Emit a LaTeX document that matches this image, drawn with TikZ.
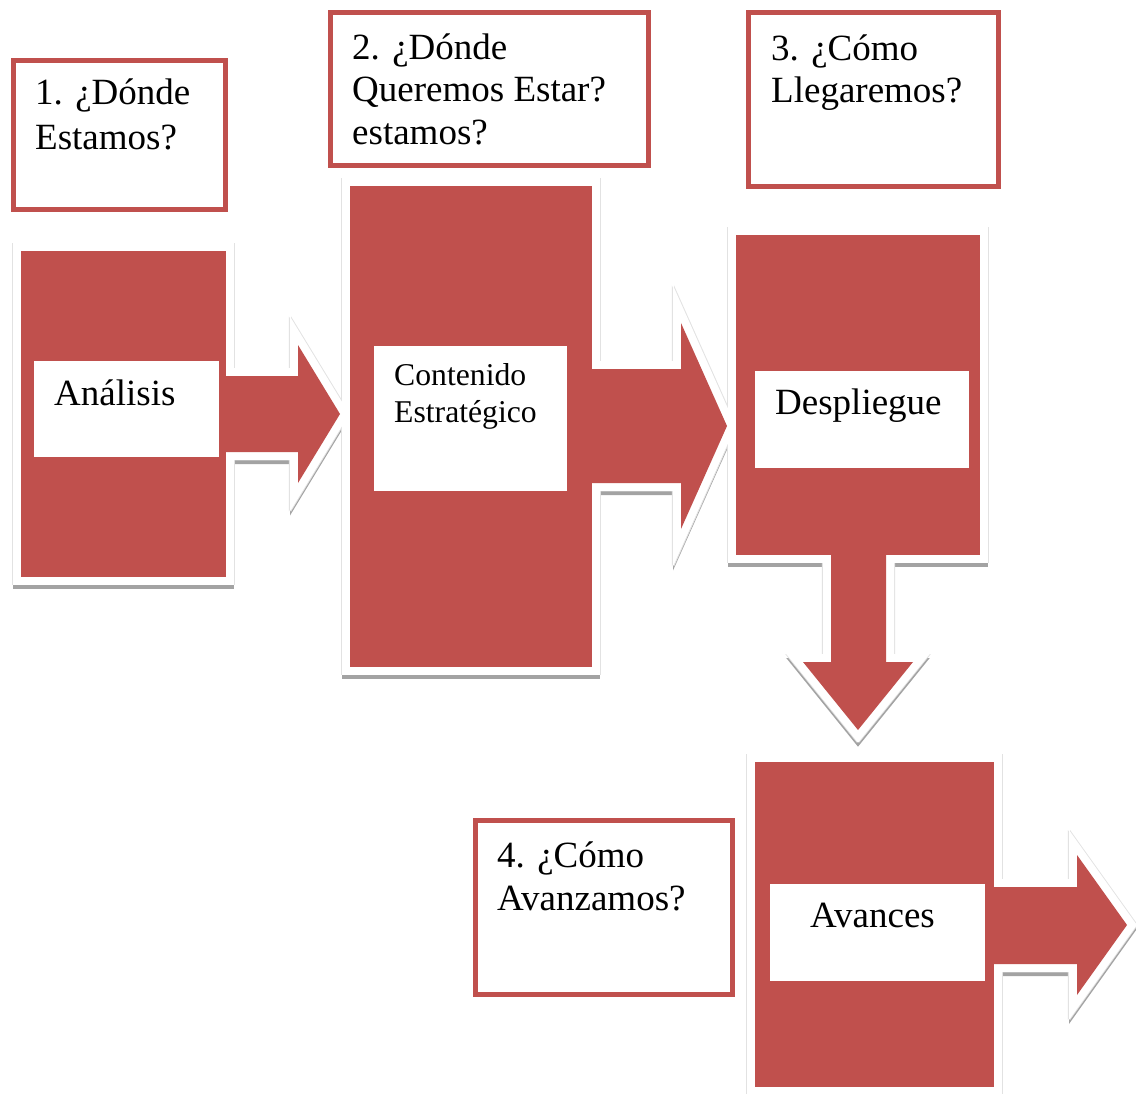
\documentclass[tikz,border=0pt]{standalone}
\usepackage{fontspec}
\setmainfont{Liberation Serif}
\definecolor{accent}{HTML}{C0504D}
\definecolor{shadowgray}{HTML}{A3A3A3}
\definecolor{edgegray}{HTML}{E2E2E2}

% Block shapes of the process chart: boxes and the block arrows between them
\newcommand{\processblocks}[1]{%
  \path[#1] (21,251) rectangle (226,577);
  \path[#1] (226,376) -- (298,376) -- (298,345) -- (340,414) -- (298,483) -- (298,452) -- (226,452) -- cycle;
  \path[#1] (350,186) rectangle (592,667);
  \path[#1] (592,369) -- (681,369) -- (681,323) -- (727,426) -- (681,529) -- (681,483) -- (592,483) -- cycle;
  \path[#1] (736,235) rectangle (980,555);
  \path[#1] (831,555) -- (831,662) -- (803,662) -- (858,730) -- (913,662) -- (886,662) -- (886,555) -- cycle;
  \path[#1] (755,762) rectangle (994,1087);
  \path[#1] (994,887) -- (1077,887) -- (1077,855) -- (1127,925) -- (1077,995) -- (1077,964) -- (994,964) -- cycle;
}

\tikzset{
  blockshadow/.style={fill=shadowgray, draw=shadowgray, line width=16pt, line join=miter, shift={(0,4)}},
  blockedge/.style={fill=edgegray, draw=edgegray, line width=16pt, line join=miter},
  blockhalo/.style={fill=white, draw=white, line width=16pt, line join=miter},
  blockfill/.style={fill=accent},
  textpanel/.style={fill=white, inner sep=0pt, outer sep=0pt, anchor=north west},
  questionbox/.style={draw=accent, line width=5pt, fill=white, inner sep=0pt, outer sep=0pt, anchor=north west},
  bigtext/.style={font=\fontsize{37}{43}\selectfont, inner sep=0pt, anchor=base west, text=black},
  smalltext/.style={font=\fontsize{31.7}{37}\selectfont, inner sep=0pt, anchor=base west, text=black},
}

\begin{document}
\begin{tikzpicture}[x=1pt, y=-1pt]
  \useasboundingbox (0,0) rectangle (1136,1094);
  \clip (0,0) rectangle (1136,1094);

  % raised look: drop shadow, faint side edges, white rim, red body
  \processblocks{blockshadow}
  \processblocks{blockedge, shift={(1.1,0)}}
  \processblocks{blockedge, shift={(-1.1,0)}}
  \processblocks{blockhalo}
  \processblocks{blockfill}

  % white panels on the blocks
  \node[textpanel, minimum width=185pt, minimum height=96pt] (panelA) at (34,361) {};
  \node[textpanel, minimum width=193pt, minimum height=145pt] (panelB) at (374,346) {};
  \node[textpanel, minimum width=214pt, minimum height=97pt] (panelC) at (755,371) {};
  \node[textpanel, minimum width=215pt, minimum height=97pt] (panelD) at (770,884) {};

  \node[bigtext] (analisis) at (54,405) {Análisis};
  \node[smalltext] (contenido) at (394,385) {Contenido};
  \node[smalltext] (estrategico) at (394,422) {Estratégico};
  \node[bigtext] (despliegue) at (775,414) {Despliegue};
  \node[bigtext] (avances) at (810,927) {Avances};

  % question boxes
  \node[questionbox, minimum width=212pt, minimum height=149pt] (qA) at (13,61) {};
  \node[questionbox, minimum width=318.5pt, minimum height=152.5pt] (qB) at (330,13) {};
  \node[questionbox, minimum width=250.5pt, minimum height=173.5pt] (qC) at (748,13) {};
  \node[questionbox, minimum width=256.5pt, minimum height=174.5pt] (qD) at (475.5,820) {};

  \node[bigtext] (qA1) at (35,105) {1. ¿Dónde};
  \node[bigtext] (qA2) at (35,150) {Estamos?};
  \node[bigtext] (qB1) at (352,60) {2. ¿Dónde};
  \node[bigtext] (qB2) at (352,102) {Queremos Estar?};
  \node[bigtext] (qB3) at (352,145) {estamos?};
  \node[bigtext] (qC1) at (771,61) {3. ¿Cómo};
  \node[bigtext] (qC2) at (771,103) {Llegaremos?};
  \node[bigtext] (qD1) at (497,867) {4. ¿Cómo};
  \node[bigtext] (qD2) at (497,910) {Avanzamos?};
\end{tikzpicture}
\end{document}
